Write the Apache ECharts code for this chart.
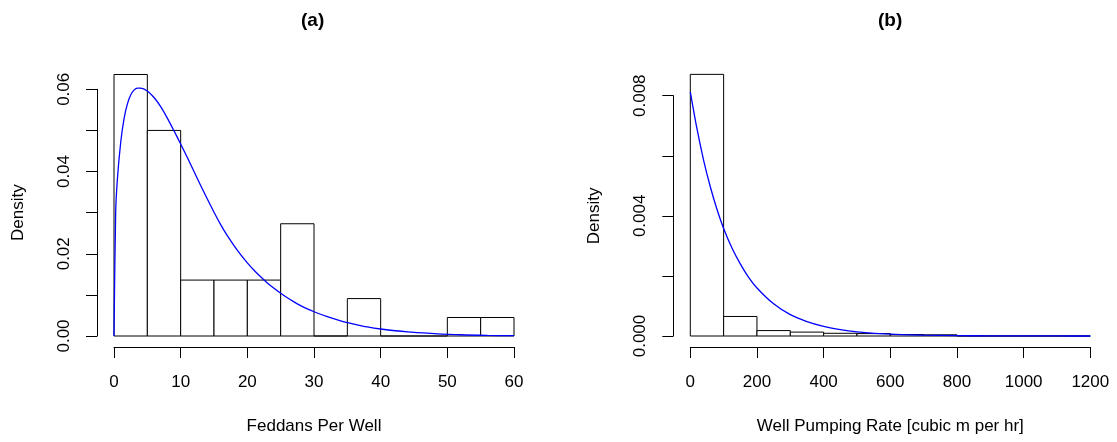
<!DOCTYPE html>
<html><head><meta charset="utf-8">
<script src="https://cdn.jsdelivr.net/npm/echarts@6/dist/echarts.min.js"></script>
<style>html,body{margin:0;padding:0;background:#fff}#c{width:1117px;height:442px}</style>
</head><body><div id="c"></div>
<script>
// ---- data ----
const panelTitles = ['(a)', '(b)'];
const xTitles = ['Feddans Per Well', 'Well Pumping Rate [cubic m per hr]'];
const yTitle = 'Density';

const feddanBreaks  = [0, 5, 10, 15, 20, 25, 30, 35, 40, 45, 50, 55, 60];
const feddanDensity = [0.0636, 0.0500, 0.0136, 0.0136, 0.0136, 0.0273, 0, 0.0091, 0, 0, 0.0045, 0.0045];
const feddanCurveX = [0, 0.25, 0.5, 1, 1.5, 2, 2.5, 3, 3.5, 4, 5, 6, 7, 8, 9, 10, 11, 12, 13, 14, 15, 16, 17, 18, 19, 20, 21, 22, 23, 24, 25, 26, 27, 28, 29, 30, 32, 34, 36, 38, 40, 44, 48, 52, 56, 60];
const feddanCurveY = [0, 0.030, 0.038, 0.047, 0.0528, 0.0564, 0.0586, 0.0598, 0.0603, 0.0603, 0.0596, 0.0580, 0.0558, 0.0530, 0.0499, 0.0467, 0.0434, 0.0400, 0.0366, 0.0333, 0.0301, 0.0271, 0.0244, 0.0220, 0.0198, 0.0178, 0.0160, 0.0144, 0.0129, 0.0116, 0.0104, 0.0093, 0.0083, 0.0074, 0.0066, 0.0059, 0.0047, 0.0037, 0.0029, 0.0022, 0.0017, 0.0010, 0.0006, 0.0003, 0.00015, 0.00008];

const pumpBreaks  = [0, 100, 200, 300, 400, 500, 600, 700, 800, 900, 1000, 1100, 1200];
const pumpDensity = [0.00871, 0.00065, 0.00018, 0.00013, 0.00009, 0.00008, 0.00005, 0.00004, 0, 0, 0, 0];
const pumpCurveX = [0, 20, 40, 60, 80, 100, 125, 150, 175, 200, 250, 300, 350, 400, 450, 500, 600, 700, 800, 900, 1000, 1100, 1200];
const pumpCurveY = [0.00813, 0.00690, 0.00585, 0.00497, 0.00422, 0.00358, 0.00293, 0.00240, 0.00195, 0.00160, 0.00107, 0.00071, 0.00048, 0.00032, 0.00021, 0.00014, 0.00006, 0.000028, 0.000012, 0.000005, 0.000002, 0.000001, 0];

const feddanXTicks = {min: 0, max: 60, step: 10};
const feddanYTicks = {min: 0, max: 0.06, step: 0.01};
const pumpXTicks = {min: 0, max: 1200, step: 200};
const pumpYTicks = {min: 0, max: 0.008, step: 0.002};

// ---- helpers ----
function histData(breaks, dens) { return dens.map((d, i) => [breaks[i], breaks[i + 1], d]); }
function curveData(xs, ys) { return xs.map((x, i) => [x, ys[i]]); }

const FONT = '"Liberation Sans", Arial, Helvetica, sans-serif';
const BLACK = '#000';

function renderHist(params, api) {
  const p0 = api.coord([api.value(0), api.value(2)]);
  const p1 = api.coord([api.value(1), 0]);
  return {
    type: 'rect',
    shape: {x: p0[0], y: p0[1], width: p1[0] - p0[0], height: p1[1] - p0[1]},
    style: {fill: '#fff', stroke: BLACK, lineWidth: 1}
  };
}

function xAxisDef(idx, t, name) {
  return {
    type: 'value', gridIndex: idx, min: t.min, max: t.max, interval: t.step,
    offset: 11,
    axisLine: {show: true, onZero: false, lineStyle: {color: BLACK, width: 1}},
    axisTick: {show: true, length: 11, lineStyle: {color: BLACK, width: 1}},
    axisLabel: {color: BLACK, fontSize: 17, fontFamily: FONT, margin: 27, formatter: v => String(v)},
    splitLine: {show: false},
    name: name, nameLocation: 'middle', nameGap: 71,
    nameTextStyle: {color: BLACK, fontSize: 17, fontFamily: FONT}
  };
}
function yAxisDef(idx, t, digits, every) {
  return {
    type: 'value', gridIndex: idx, min: t.min, max: t.max, interval: t.step,
    offset: 17,
    axisLine: {show: true, onZero: false, lineStyle: {color: BLACK, width: 1}},
    axisTick: {show: true, length: 11, lineStyle: {color: BLACK, width: 1}},
    axisLabel: {
      color: BLACK, fontSize: 17, fontFamily: FONT, rotate: 90, margin: 24,
      formatter: v => (Math.round(v / t.step) % every === 0) ? v.toFixed(digits) : ''
    },
    splitLine: {show: false},
    name: yTitle, nameLocation: 'middle', nameGap: 70, nameRotate: 90,
    nameTextStyle: {color: BLACK, fontSize: 17, fontFamily: FONT}
  };
}

const chart = echarts.init(document.getElementById('c'), null, {renderer: 'canvas'});
chart.setOption({
  animation: false,
  backgroundColor: '#fff',
  grid: [
    {left: 114, top: 89.3, width: 400, height: 246.7},
    {left: 690.3, top: 95.7, width: 400, height: 240.3}
  ],
  xAxis: [xAxisDef(0, feddanXTicks, xTitles[0]), xAxisDef(1, pumpXTicks, xTitles[1])],
  yAxis: [yAxisDef(0, feddanYTicks, 2, 2), yAxisDef(1, pumpYTicks, 3, 2)],
  graphic: [
    {type: 'text', left: 314 - 13, top: 11, style: {text: panelTitles[0], font: 'bold 19px ' + FONT, fill: BLACK}},
    {type: 'text', left: 891 - 13, top: 11, style: {text: panelTitles[1], font: 'bold 19px ' + FONT, fill: BLACK}}
  ],
  series: [
    {type: 'custom', xAxisIndex: 0, yAxisIndex: 0, clip: false, renderItem: renderHist,
     encode: {x: [0, 1], y: 2}, data: histData(feddanBreaks, feddanDensity), z: 2},
    {type: 'line', xAxisIndex: 0, yAxisIndex: 0, clip: false, showSymbol: false, smooth: 0.3,
     lineStyle: {color: '#0000ff', width: 1.3}, data: curveData(feddanCurveX, feddanCurveY), z: 3},
    {type: 'custom', xAxisIndex: 1, yAxisIndex: 1, clip: false, renderItem: renderHist,
     encode: {x: [0, 1], y: 2}, data: histData(pumpBreaks, pumpDensity), z: 2},
    {type: 'line', xAxisIndex: 1, yAxisIndex: 1, clip: false, showSymbol: false, smooth: 0.3,
     lineStyle: {color: '#0000ff', width: 1.3}, data: curveData(pumpCurveX, pumpCurveY), z: 3}
  ]
});
</script>
</body></html>
